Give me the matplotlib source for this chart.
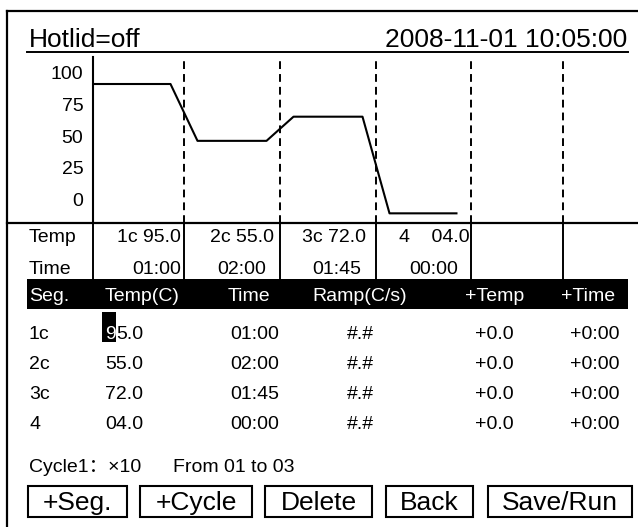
import matplotlib
matplotlib.use("Agg")
import matplotlib.pyplot as plt
from matplotlib.patches import Rectangle

plt.rcParams['font.family'] = ['Liberation Sans', 'Noto Sans CJK SC']

# --- DATI ---
hotlid = "Hotlid=off"
timestamp = "2008-11-01 10:05:00"
seg_names = ["1c", "2c", "3c", "4"]
seg_temps = [95.0, 55.0, 72.0, 4.0]
seg_times = ["01:00", "02:00", "01:45", "00:00"]
seg_ramps = ["#.#", "#.#", "#.#", "#.#"]
seg_dtemp = ["+0.0", "+0.0", "+0.0", "+0.0"]
seg_dtime = ["+0:00", "+0:00", "+0:00", "+0:00"]
headers = ["Seg.", "Temp(C)", "Time", "Ramp(C/s)", "+Temp", "+Time"]
axis_labels = [0, 25, 50, 75, 100]
cycle_text = "Cycle1：×10"
cycle_range = "From 01 to 03"
buttons = ["+Seg.", "+Cycle", "Delete", "Back", "Save/Run"]

# --- LAYOUT (pixel) ---
W, H = 638, 527
col_edges = [93, 184, 280, 376, 471, 563]   # colonne del grafico / tabella
ramp_half = 13.5
plot_top, plot_bot = 57, 223
t_lo, t_hi = -2.8, 114.0                    # scala temperatura del grafico
FS = 14
FST = 19
FSB = 19

fig = plt.figure(figsize=(W / 100, H / 100), dpi=100, facecolor='white')
ui = fig.add_axes([0, 0, 1, 1])
ui.set_xlim(0, W)
ui.set_ylim(H, 0)
ui.axis('off')

# bordo
ui.plot([7, W], [11, 11], color='black', lw=1.6)
ui.plot([7, 7], [11, H], color='black', lw=1.6)

# titolo
ui.text(29, 47, hotlid, fontsize=FST, va='baseline', ha='left')
ui.text(627, 47, timestamp, fontsize=FST, va='baseline', ha='right')
ui.plot([27, 628], [52, 52], color='black', lw=1.4)

# --- GRAFICO TEMPERATURA ---
ax = fig.add_axes([col_edges[0] / W, 1 - plot_bot / H,
                   (W - col_edges[0]) / W, (plot_bot - plot_top) / H])
ax.set_xlim(col_edges[0], W)
ax.set_ylim(t_lo, t_hi)
ax.patch.set_alpha(0)
for s in ['top', 'right', 'bottom']:
    ax.spines[s].set_visible(False)
ax.spines['left'].set_linewidth(1.5)
ax.set_xticks([])
# la scala disegnata dallo strumento e' compressa rispetto alla curva
ax.set_yticks([13.4 + 0.9 * v for v in axis_labels], [str(v) for v in axis_labels])
ax.tick_params(axis='y', length=0, pad=7, labelsize=FS)

xs, ys = [], []
for i, t in enumerate(seg_temps):
    x0 = col_edges[0] if i == 0 else col_edges[i] + ramp_half
    x1 = col_edges[i + 1] - ramp_half
    xs += [x0, x1]
    ys += [t, t]
ax.plot(xs, ys, color='black', lw=1.5, solid_capstyle='butt')
for xe in col_edges[1:]:
    ax.axvline(xe, ymin=0, ymax=(plot_bot - 60) / (plot_bot - plot_top),
               color='black', lw=1.4, linestyle=(0, (4, 2.6)))

# --- RIGHE TEMP / TIME ---
ui.plot([7, W], [223, 223], color='black', lw=1.6)
for xe in col_edges:
    ui.plot([xe, xe], [223, 279], color='black', lw=1.4)
ui.text(29, 242, "Temp", fontsize=FS, va='baseline')
ui.text(29, 274, "Time", fontsize=FS, va='baseline')
temp_right = [181, 274, 366, 470]
time_right = [181, 266, 361, 458]
for i, (s, t, tm) in enumerate(zip(seg_names, seg_temps, seg_times)):
    lab = f"{s} {t:04.1f}" if s.endswith('c') else f"{s}    {t:04.1f}"
    ui.text(temp_right[i], 242, lab, fontsize=FS, va='baseline', ha='right')
    ui.text(time_right[i], 274, tm, fontsize=FS, va='baseline', ha='right')

# --- TABELLA SEGMENTI ---
ui.add_patch(Rectangle((27, 279), 601, 30, color='black', lw=0))
hdr_x = [29, 105, 228, 312, 465, 561]
for x, h in zip(hdr_x, headers):
    ui.text(x, 301, h, fontsize=FS, va='baseline', color='white')

col_x = [29, 105, 230, 347, 475, 570]
row_base = [339, 369, 399, 429]
for r, yb in enumerate(row_base):
    vals = [seg_names[r], f"{seg_temps[r]:04.1f}", seg_times[r],
            seg_ramps[r], seg_dtemp[r], seg_dtime[r]]
    for x, v in zip(col_x, vals):
        if r == 0 and x == col_x[1]:
            # cursore sulla prima cifra: cifra bianca su fondo nero
            ui.add_patch(Rectangle((102, 312), 14, 30, color='black', lw=0))
            first = ui.text(x, yb, v[0], fontsize=FS, va='baseline', color='white')
            ui.annotate(v[1:], xy=(1, 0), xycoords=first, fontsize=FS,
                        va='bottom', ha='left')
        else:
            ui.text(x, yb, v, fontsize=FS, va='baseline')

# ciclo
ui.text(29, 472, cycle_text, fontsize=FS, va='baseline')
ui.text(173, 472, cycle_range, fontsize=FS, va='baseline')

# --- PULSANTI ---
btn_l = [28, 140, 265, 386, 488]
btn_r = [127, 252, 372, 473, 632]
for b, l, r in zip(buttons, btn_l, btn_r):
    ui.add_patch(Rectangle((l, 486), r - l, 31, fill=False, ec='black', lw=1.5))
    ui.text((l + r) / 2, 510, b, fontsize=FSB, va='baseline', ha='center')

fig.savefig("out.png", dpi=100, facecolor='white')
